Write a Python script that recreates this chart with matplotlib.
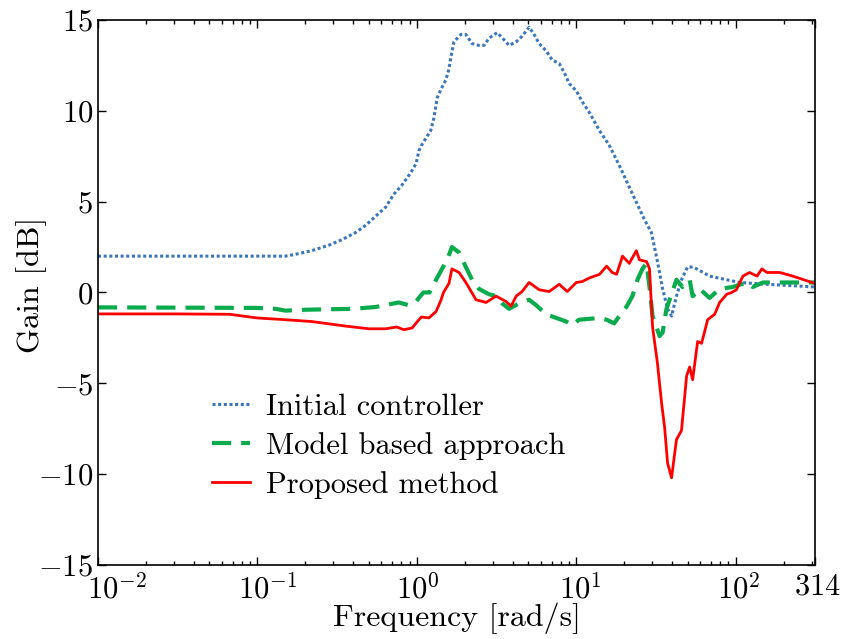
import matplotlib
matplotlib.use("Agg")
import matplotlib.pyplot as plt
import matplotlib.transforms as mtransforms
from matplotlib.ticker import LogLocator, NullFormatter

# LaTeX-ish look without LaTeX
plt.rcParams['font.family'] = ['cmr10', 'DejaVu Serif']
plt.rcParams['mathtext.fontset'] = 'cm'
plt.rcParams['axes.formatter.use_mathtext'] = True
plt.rcParams['axes.unicode_minus'] = True

# Initial controller (dotted blue)
init_freq = [0.01, 0.05, 0.15, 0.173, 0.219, 0.28, 0.338, 0.413, 0.478, 0.552,
             0.638, 0.716, 0.805, 0.917, 0.99, 1.03, 1.07, 1.16, 1.22, 1.28,
             1.34, 1.42, 1.52, 1.59, 1.64, 1.71, 1.89, 2.03, 2.22, 2.45,
             2.64, 2.84, 3.19, 3.53, 3.79, 4.20, 4.57, 5.06, 5.44, 5.85,
             6.47, 7.06, 7.82, 8.41, 9.03, 10.0, 10.9, 12.1, 14.0, 16.1,
             18.6, 21.5, 24.9, 26.8, 28.8, 29.6, 32.3, 34.8, 37.4, 39.6,
             42.5, 45.7, 49.9, 53.7, 56.9, 68.6, 87.8, 106, 157, 253, 314]
init_gain = [2.0, 2.0, 2.0, 2.1, 2.3, 2.6, 2.9, 3.3, 3.7, 4.2,
             4.7, 5.4, 5.9, 6.6, 7.1, 7.8, 8.1, 8.6, 8.9, 9.6,
             10.7, 11.2, 11.7, 12.3, 13.0, 13.8, 14.2, 14.2, 13.7, 13.6,
             13.6, 14.0, 14.3, 13.9, 13.6, 13.8, 14.1, 14.6, 14.2, 13.7,
             13.3, 12.8, 12.6, 12.1, 11.5, 11.1, 10.5, 9.9, 8.9, 8.1,
             7.0, 5.8, 4.6, 4.0, 3.5, 3.3, 1.7, 0.2, -0.9, -1.3,
             -0.2, 0.7, 1.4, 1.4, 1.3, 0.9, 0.7, 0.55, 0.45, 0.35, 0.3]

# Model based approach (dashed green)
model_freq = [0.01, 0.1, 0.13, 0.15, 0.2, 0.3, 0.4, 0.55, 0.72, 0.77,
              0.89, 0.99, 1.03, 1.10, 1.2, 1.32, 1.44, 1.55, 1.66, 1.84,
              2.03, 2.22, 2.45, 2.84, 3.14, 3.43, 3.79, 4.38, 5.06, 5.60,
              6.47, 7.48, 8.65, 9.44, 10.4, 12.1, 14.0, 15.5, 17.3, 18.6,
              20.6, 22.5, 24.2, 26.0, 27.6, 28.8, 30.1, 33.3, 34.8, 36.8,
              38.5, 42.5, 46.4, 51.4, 53.7, 56.9, 59.4, 68.6, 79.3, 95.8,
              117, 128, 148, 181, 228, 314]
model_gain = [-0.82, -0.85, -0.9, -1.0, -0.95, -0.92, -0.9, -0.8, -0.6, -0.55,
              -0.7, -0.5, -0.3, 0.0, 0.0, 0.7, 1.3, 1.8, 2.5, 2.2,
              1.4, 0.7, 0.2, -0.1, -0.2, -0.6, -0.9, -0.6, -0.4, -0.7,
              -1.2, -1.4, -1.6, -1.8, -1.5, -1.45, -1.4, -1.5, -1.7, -1.3,
              -0.8, -0.2, 0.7, 1.3, 1.6, 0.3, -1.3, -2.4, -2.2, -0.9,
              -0.4, 0.7, 0.3, 0.7, -0.2, 0.0, 0.2, -0.3, 0.2, 0.3,
              0.55, 0.3, 0.55, 0.55, 0.55, 0.55]

# Proposed method (solid red)
prop_freq = [0.01, 0.03, 0.067, 0.099, 0.15, 0.219, 0.357, 0.50, 0.638, 0.747,
             0.83, 0.935, 1.03, 1.07, 1.19, 1.32, 1.42, 1.47, 1.59, 1.66,
             1.84, 2.03, 2.35, 2.72, 3.14, 3.63, 3.90, 4.20, 4.57, 5.06,
             5.85, 6.76, 7.82, 8.78, 10.0, 10.9, 12.1, 14.0, 15.5, 16.8,
             17.9, 19.5, 21.5, 23.8, 24.9, 27.6, 28.8, 30.1, 32.3, 34.3,
             35.8, 37.4, 39.6, 42.5, 45.7, 49.2, 51.4, 53.7, 57.7, 61.1,
             66.7, 73.8, 79.3, 87.8, 94.4, 101, 111, 122, 136, 146,
             157, 189, 228, 301, 314]
prop_gain = [-1.18, -1.18, -1.2, -1.4, -1.5, -1.6, -1.85, -2.0, -2.0, -1.9,
             -2.05, -1.95, -1.5, -1.35, -1.4, -1.05, -0.4, 0.0, 0.5, 1.3,
             1.1, 0.55, -0.4, -0.55, -0.2, -0.5, -0.75, -0.2, 0.05, 0.55,
             0.15, 0.05, 0.45, 0.05, 0.55, 0.6, 0.8, 1.0, 1.45, 1.1,
             1.0, 2.0, 1.6, 2.3, 1.8, 1.7, 1.3, -1.9, -3.9, -6.1,
             -7.4, -9.4, -10.2, -8.1, -7.6, -4.6, -4.1, -4.8, -2.7, -2.8,
             -1.5, -1.2, -0.55, -0.1, 0.0, 0.15, 0.9, 1.1, 0.9, 1.3,
             1.1, 1.1, 0.9, 0.55, 0.5]

xticks = [1e-2, 1e-1, 1, 10, 100, 314]
xtick_labels = [r'$10^{-2}$', r'$10^{-1}$', r'$10^{0}$', r'$10^{1}$', r'$10^{2}$', r'$314$']
yticks = [-15, -10, -5, 0, 5, 10, 15]

fig = plt.figure(figsize=(8.41, 6.39), dpi=100)
ax = fig.add_axes([0.1165, 0.1158, 0.8525, 0.853])

ax.plot(init_freq, init_gain, color='#3a76bb', lw=2.2, linestyle=(0, (1, 0.85)),
        label='Initial controller')
ax.plot(model_freq, model_gain, color='#0aab4c', lw=3.0, linestyle=(0, (4.6, 2.4)),
        label='Model based approach')
ax.plot(prop_freq, prop_gain, color='#ff0000', lw=2.0, label='Proposed method')

ax.set_xscale('log')
ax.set_xlim(1e-2, 314)
ax.set_ylim(-15, 15)
ax.set_yticks(yticks)
ax.set_xticks(xticks)
ax.set_xticklabels(xtick_labels)
ax.xaxis.set_minor_locator(LogLocator(base=10, subs=range(2, 10), numticks=20))
ax.xaxis.set_minor_formatter(NullFormatter())

ax.tick_params(which='both', direction='in', top=True, right=True, labelsize=22)
ax.tick_params(which='major', length=6, width=1)
ax.tick_params(which='minor', length=3, width=1)
ax.tick_params(axis='x', pad=6)
for s in ax.spines.values():
    s.set_linewidth(1.2)

# the x tick labels sit a bit right of their ticks in the original
shifts = [19, 10, 1, 4, 3, 3]
for lab, dx in zip(ax.get_xticklabels(), shifts):
    lab.set_transform(lab.get_transform() +
                      mtransforms.ScaledTranslation(dx / 100, 0, fig.dpi_scale_trans))

ax.set_xlabel('Frequency [rad/s]', fontsize=23, labelpad=-1)
ax.set_ylabel('Gain [dB]', fontsize=23)
ax.yaxis.set_label_coords(-0.071, 0.514)

ax.legend(loc='upper left', bbox_to_anchor=(0.121, 0.365), frameon=False,
          fontsize=22, handlelength=1.25, handletextpad=0.5, labelspacing=0.36)

fig.savefig('out.png', dpi=100)
